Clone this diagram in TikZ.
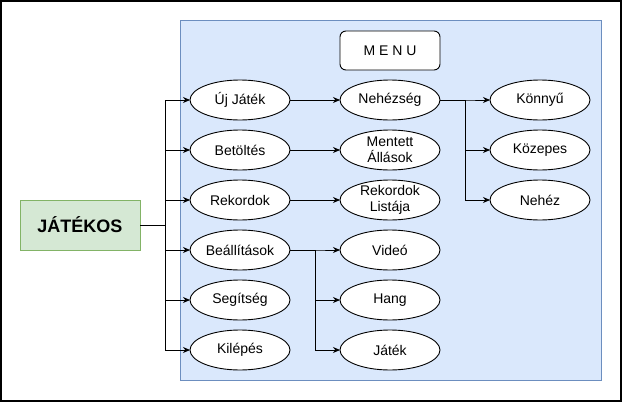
\documentclass[tikz,border=0pt]{standalone}
\usepackage{fontspec}
\setmainfont{Liberation Sans}
\usetikzlibrary{arrows.meta,shapes.geometric}
\definecolor{bluefill}{HTML}{DAE8FC}
\definecolor{bluedraw}{HTML}{6C8EBF}
\definecolor{greenfill}{HTML}{D5E8D4}
\definecolor{greendraw}{HTML}{82B366}
\begin{document}
\begin{tikzpicture}[x=1pt,y=-1pt,
  ell/.style={ellipse, draw, fill=white, line width=0.9pt, minimum width=100pt, minimum height=40pt,
    inner sep=0pt, outer sep=0pt, align=center, font=\fontsize{14}{16}\selectfont},
  ell2/.style={ell, inner ysep=-4pt},
  conn/.style={-{Stealth[length=7pt,width=6pt]}, line width=0.9pt},
  plain/.style={line width=0.9pt}]
\useasboundingbox (0,0) rectangle (622,402);
\draw[line width=2pt] (1,1) rectangle (621,401);
\node[draw=bluedraw, fill=bluefill, line width=0.8pt, minimum width=421pt, minimum height=360pt, inner sep=0pt] (menu) at (390.5,200) {};
\node[draw, fill=white, rounded corners=6pt, line width=0.9pt, minimum width=100pt, minimum height=39pt, font=\fontsize{14}{16}\selectfont] (title) at (390,50.5) {M E N U};
\node[draw=greendraw, fill=greenfill, line width=0.8pt, minimum width=120pt, minimum height=50pt, font=\fontsize{18}{20}\selectfont\bfseries] (jat) at (80,225) {JÁTÉKOS};
% column 1
\node[ell] (uj) at (240,100) {Új Játék};
\node[ell] (bet) at (240,150) {Betöltés};
\node[ell] (rek) at (240,200) {Rekordok};
\node[ell] (beal) at (240,250) {Beállítások};
\node[ell] (seg) at (240,300) {Segítség};
\node[ell] (kil) at (240,350) {Kilépés};
% column 2
\node[ell] (neh) at (390,100) {Nehézség};
\node[ell2] (ment) at (390,150) {Mentett\\Állások};
\node[ell2] (rlist) at (390,200) {Rekordok\\Listája};
\node[ell] (vid) at (390,250) {Videó};
\node[ell] (hang) at (390,300) {Hang};
\node[ell] (jtk) at (390,350) {Játék};
% column 3
\node[ell] (konny) at (540,100) {Könnyű};
\node[ell] (koz) at (540,150) {Közepes};
\node[ell] (nehz) at (540,200) {Nehéz};
% trunks
\coordinate (t1) at (165,225);
\coordinate (t2) at (315,250);
\coordinate (t3) at (465,100);
\foreach \n in {uj,bet,rek,beal,seg,kil}{
  \draw[conn] (jat.east) -- (t1) |- (\n.west);
}
\draw[conn] (uj.east) -- (neh.west);
\draw[conn] (bet.east) -- (ment.west);
\draw[conn] (rek.east) -- (rlist.west);
\foreach \n in {vid,hang,jtk}{
  \draw[conn] (beal.east) -- (t2) |- (\n.west);
}
\foreach \n in {konny,koz,nehz}{
  \draw[conn] (neh.east) -- (t3) |- (\n.west);
}
\end{tikzpicture}
\end{document}
